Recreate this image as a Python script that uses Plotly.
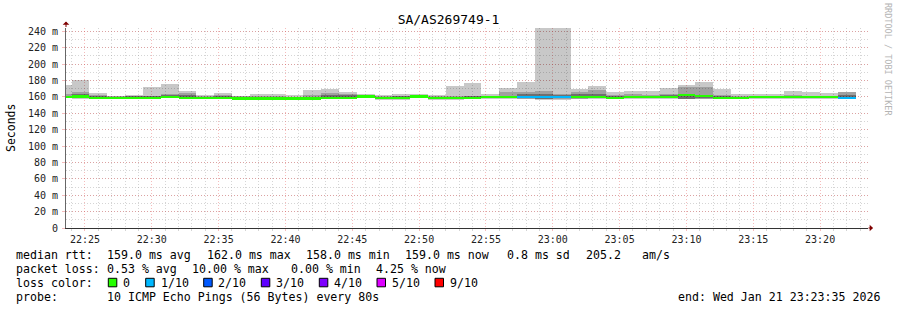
import numpy as np
import pandas as pd
import plotly.graph_objects as go

# ---------------- data ----------------
TITLE = "SA/AS269749-1"
step_end = pd.date_range("2026-01-21 22:24:00", periods=45, freq="80s")   # rrd step timestamps

rtt_max = [175, 181, 164.5, 161.5, 162, 172, 175.5, 167, 162, 164.5, 161.5, 163, 163, 162, 168.5,
           170, 166, 163, 162, 163, 163, 162, 173, 176.5, 164, 170.5, 178, 243.5, 243.5, 170,
           173, 166, 167.3, 167.3, 170.6, 174, 178, 170, 163, 163, 163, 167, 166, 164.5, 165.7]
band_hi = [163, 165.5, 162, 160.5, 161, 161.5, 163, 164.5, 161, 162, 160.5, 161, 161, 160, 162,
           164.8, 163.5, 162, 160.5, 161.5, 162, 161, 161, 161.5, 161.5, 165.5, 166, 167, 164, 166,
           168.5, 162.5, 163, 162.5, 164, 172, 171.5, 162, 161, 161, 161, 162, 161.5, 161.5, 165.5]
inner_hi = [161.5, 163, 161, 160, 160.5, 160.5, 162, 162, 160, 161, 159.5, 159.5, 159.5, 159, 160,
            162, 162, 161.5, 160, 160.5, 161.5, 160, 160, 160.5, 160.5, 161.5, 163, 164, 162.5, 163,
            163, 161, 161.5, 161, 162, 163, 162, 160.5, 160, 160, 160, 160.5, 160.5, 160.5, 162]
rtt_median = [160, 160.5, 159, 159, 159, 159, 160, 158.8, 159, 159, 158, 158, 158, 158, 158,
              159, 159, 160.5, 158.5, 158.5, 160.5, 158.5, 158.5, 159, 159.5, 159.5, 159.5, 159.5, 159.5, 160,
              159.5, 159, 159.5, 159.5, 159.5, 162, 160.7, 159, 159, 159.5, 159.5, 159.5, 159.5, 159.5, 159]
inner_lo = [159, 158.8, 158, 158, 158, 158, 159, 157.6, 158, 158, 157, 157, 157, 157, 157,
            158, 158, 159.3, 157.5, 157.5, 159.3, 157.5, 157.5, 158, 158.5, 158.5, 158, 157.8, 158, 158.2,
            158.5, 158, 158.5, 158.5, 158.5, 157.6, 158.2, 158, 158, 158.5, 158.5, 158.5, 158.5, 158.5, 158]
band_lo = [158.5, 158.2, 157.6, 157.6, 157.6, 157.6, 158.5, 157.2, 157.6, 157.6, 156.6, 156.6, 156.6, 156.6, 156.6,
           157.5, 157.5, 158.8, 157, 157, 158.8, 157, 157, 157.6, 158, 158, 157.4, 157, 157.2, 157.8,
           158, 157.5, 158, 158, 158, 157.2, 157.8, 157.6, 157.6, 158, 158, 158, 158, 158, 157.6]
rtt_min = [158, 157.5, 157.2, 157.2, 157.2, 157.2, 158, 156.8, 157.2, 157.2, 156.2, 156.2, 156.2, 156.2, 156.2,
           157, 157, 158.3, 156.6, 156.6, 158.3, 156.6, 156.6, 157.2, 157.6, 157.6, 157, 156.3, 156.3, 157.5,
           157.6, 157, 157.6, 157.6, 157.6, 156.8, 157.4, 157.2, 157.2, 157.6, 157.6, 157.6, 157.6, 157.6, 157.2]
loss_count = [0] * 26 + [1, 1, 1] + [0] * 15 + [1]

loss_labels = ["0", "1/10", "2/10", "3/10", "4/10", "5/10", "9/10"]
loss_levels = [0, 1, 2, 3, 4, 5, 9]
loss_colors = ["#26ff00", "#00b8ff", "#0059ff", "#5e00ff", "#7e00ff", "#dd00ff", "#ff0000"]

y_ticks = [0, 20, 40, 60, 80, 100, 120, 140, 160, 180, 200, 220, 240]
y_ticktext = ["0"] + [f"{v} m" for v in y_ticks[1:]]

stats_rtt = ["159.0 ms avg", "162.0 ms max", "158.0 ms min", "159.0 ms now", "0.8 ms sd", "205.2", "am/s"]
stats_loss = ["0.53 % avg", "10.00 % max", "0.00 % min", "4.25 % now"]
probe_text = "10 ICMP Echo Pings (56 Bytes) every 80s"
end_text = "end: Wed Jan 21 23:23:35 2026"

# ---------------- figure ----------------
MONO = "DejaVu Sans Mono, monospace"
W, H = 897, 310
L, R, T, B = 66, 29, 28, 82
PW, PH = W - L - R, H - T - B
STEP_MS = 80000

def px_x(x):
    return (x - L) / PW

def px_y(y):
    return (H - B - y) / PH

mx, mn = np.array(rtt_max), np.array(rtt_min)
bh, bl = np.array(band_hi), np.array(band_lo)
ih, il = np.array(inner_hi), np.array(inner_lo)
med = np.array(rtt_median)

def color_for(c):
    for lvl, col in zip(reversed(loss_levels), reversed(loss_colors)):
        if c >= lvl:
            return col
    return loss_colors[0]

fig = go.Figure()
common = dict(x=step_end, width=STEP_MS, offset=-STEP_MS, hoverinfo="skip", showlegend=False)
fig.add_trace(go.Bar(base=mn, y=mx - mn, marker=dict(color="rgba(0,0,0,0.215)", line=dict(width=0)), **common))
fig.add_trace(go.Bar(base=bl, y=bh - bl, marker=dict(color="rgba(0,0,0,0.2)", line=dict(width=0)), **common))
fig.add_trace(go.Bar(base=il, y=ih - il, marker=dict(color="rgba(0,0,0,0.3)", line=dict(width=0)), **common))
MED_H = 2.6
fig.add_trace(go.Bar(base=med - MED_H / 2, y=[MED_H] * len(med),
                     marker=dict(color=[color_for(c) for c in loss_count], line=dict(width=0)), **common))

MAJ = "rgba(230,80,80,0.38)"
MIN = "rgba(150,150,150,0.4)"
DASH = "1px,2px"
fig.update_layout(
    width=W, height=H, margin=dict(l=L, r=R, t=T, b=B, pad=0),
    paper_bgcolor="white", plot_bgcolor="white",
    barmode="overlay", bargap=0,
    title=dict(text=TITLE, x=0.5, xanchor="center", y=1 - 19 / H, yanchor="middle",
               font=dict(family=MONO, size=13, color="black")),
    font=dict(family=MONO, color="black"),
    xaxis=dict(type="date", range=["2026-01-21 22:23:35", "2026-01-21 23:23:35"],
               tickformat="%H:%M", dtick=300000, tick0="2026-01-21 22:25:00",
               showgrid=True, gridcolor=MAJ, griddash=DASH, gridwidth=1,
               ticks="outside", ticklen=2, tickcolor=MAJ,
               minor=dict(dtick=60000, tick0="2026-01-21 22:25:00", showgrid=True, gridcolor=MIN,
                          griddash=DASH, ticks="outside", ticklen=2, tickcolor=MIN),
               showline=True, linecolor="#333", linewidth=1, zeroline=False,
               tickfont=dict(family=MONO, size=10, color="#222"), fixedrange=True),
    yaxis=dict(range=[0, 244], tickvals=y_ticks, ticktext=y_ticktext,
               showgrid=True, gridcolor=MAJ, griddash=DASH, gridwidth=1,
               ticks="outside", ticklen=3, tickcolor=MAJ, ticklabelstandoff=2,
               minor=dict(dtick=10, showgrid=True, gridcolor=MIN, griddash=DASH),
               showline=True, linecolor="#666", linewidth=1, zeroline=False,
               tickfont=dict(family=MONO, size=10, color="#222"), fixedrange=True),
)

ann = []
def text_at(x, y, s, size=11.6, anchor="left", color="black"):
    ann.append(dict(x=px_x(x), y=px_y(y), xref="paper", yref="paper", text=s, showarrow=False,
                    xanchor=anchor, yanchor="middle", font=dict(family=MONO, size=size, color=color),
                    borderpad=0))

# y-axis title and watermark
ann.append(dict(x=px_x(11), y=0.5, xref="paper", yref="paper", text="Seconds", showarrow=False,
                textangle=-90, font=dict(family=MONO, size=11.5, color="black"), xanchor="center", yanchor="middle"))
ann.append(dict(x=px_x(888), y=px_y(59), xref="paper", yref="paper", text="RRDTOOL / TOBI OETIKER",
                showarrow=False, textangle=90, font=dict(family=MONO, size=8.5, color="#b4b4b4"),
                xanchor="center", yanchor="middle"))
# axis arrows
ann.append(dict(x=0, y=px_y(21.5), xref="paper", yref="paper", text="", showarrow=True, arrowhead=1,
                arrowsize=1.1, arrowwidth=1, arrowcolor="#7f0000", ax=0, ay=7, standoff=0))
ann.append(dict(x=px_x(873), y=0, xref="paper", yref="paper", text="", showarrow=True, arrowhead=1,
                arrowsize=1.1, arrowwidth=1, arrowcolor="#7f0000", ax=-6, ay=0, standoff=0))

# legend lines
ys = [254.5, 268.5, 282.8, 296.5]
text_at(14.5, ys[0], "median rtt:")
for xx, s in zip([106, 206.3, 305.3, 404.3, 506, 585.3, 641], stats_rtt):
    text_at(xx, ys[0], s)
text_at(14.5, ys[1], "packet loss:")
for xx, s in zip([106, 191, 290.3, 375.3], stats_loss):
    text_at(xx, ys[1], s)
text_at(14.5, ys[2], "loss color:")
box_x = [108.3, 145.7, 203.7, 261.3, 319.3, 377, 435]
lab_x = [122, 159.5, 217, 275, 333, 391, 448.5]
shapes = []
for bx, lx, lab, col in zip(box_x, lab_x, loss_labels, loss_colors):
    shapes.append(dict(type="rect", xref="paper", yref="paper", x0=px_x(bx), x1=px_x(bx + 8.5),
                       y0=px_y(278.3), y1=px_y(286.8), fillcolor=col, line=dict(color="black", width=1)))
    text_at(lx, ys[2], lab)
text_at(14.5, ys[3], "probe:")
text_at(106, ys[3], probe_text)
text_at(881, ys[3], end_text, anchor="right")

fig.update_layout(annotations=ann, shapes=shapes)
fig.write_html("out.html")
